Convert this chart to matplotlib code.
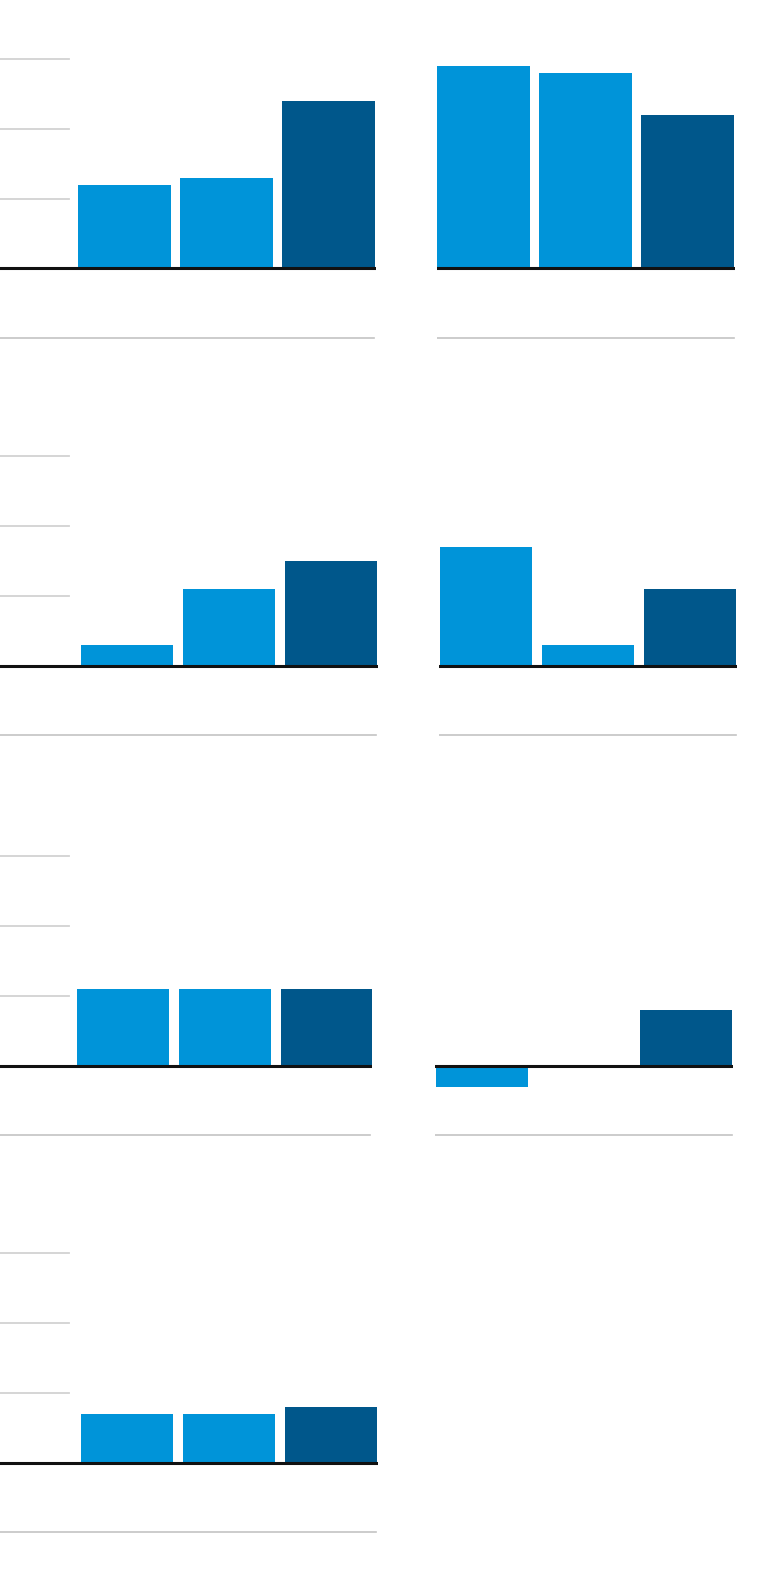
import matplotlib
matplotlib.use("Agg")
import matplotlib.pyplot as plt

# ---- data ----
categories = ["A", "B", "C"]
panel1 = [1.2, 1.3, 2.4]
panel2 = [2.9, 2.8, 2.2]
panel3 = [0.3, 1.1, 1.5]
panel4 = [1.7, 0.3, 1.1]
panel5 = [1.1, 1.1, 1.1]
panel6 = [-0.3, 0.0, 0.8]
panel7 = [0.7, 0.7, 0.8]
grid_values = [1, 2, 3]
bottom_value = -1

LIGHT = "#0094d9"
DARK = "#00578b"
bar_colors = [LIGHT, LIGHT, DARK]

W, H = 760, 1592
fig = plt.figure(figsize=(W / 100, H / 100), dpi=100)
fig.patch.set_facecolor("white")

UNIT = 69.75   # px per value unit
SLOT = 102.0   # px per category slot
ABOVE, BELOW = 245, 92

# (values, axes left px, axes right px, baseline px, first bar center px, left-column?)
layout = [
    (panel1, 0, 376, 268.3, 124.5, True),
    (panel2, 436.7, 735, 268.3, 483.5, False),
    (panel3, 0, 378, 665.7, 126.9, True),
    (panel4, 439, 737, 665.7, 486.2, False),
    (panel5, 0, 372, 1065.7, 122.9, True),
    (panel6, 435, 733.3, 1065.7, 482.0, False),
    (panel7, 0, 378, 1462.7, 126.7, True),
]

for vals, x0, x1, base, c0, is_left in layout:
    top_px = base - ABOVE
    bot_px = base + BELOW
    ax = fig.add_axes([x0 / W, 1 - bot_px / H, (x1 - x0) / W, (bot_px - top_px) / H])
    ax.set_ylim(-BELOW / UNIT, ABOVE / UNIT)
    xl0 = (x0 - c0) / SLOT
    xl1 = (x1 - c0) / SLOT
    ax.set_xlim(xl0, xl1)
    ax.axis("off")
    if is_left:
        frac = 69 / (x1 - x0)
        for g in grid_values:
            ax.axhline(g, xmin=0, xmax=frac, color="#d2d2d2", lw=1.3, zorder=1)
    ax.axhline(bottom_value, xmin=0, xmax=0.995, color="#c4c4c4", lw=1.2, zorder=1)
    ax.bar(range(len(categories)), vals, width=0.905, color=bar_colors, zorder=2)
    ax.axhline(0, color="#111111", lw=2.2, zorder=3)

fig.savefig("out.png", dpi=100, facecolor="white")
